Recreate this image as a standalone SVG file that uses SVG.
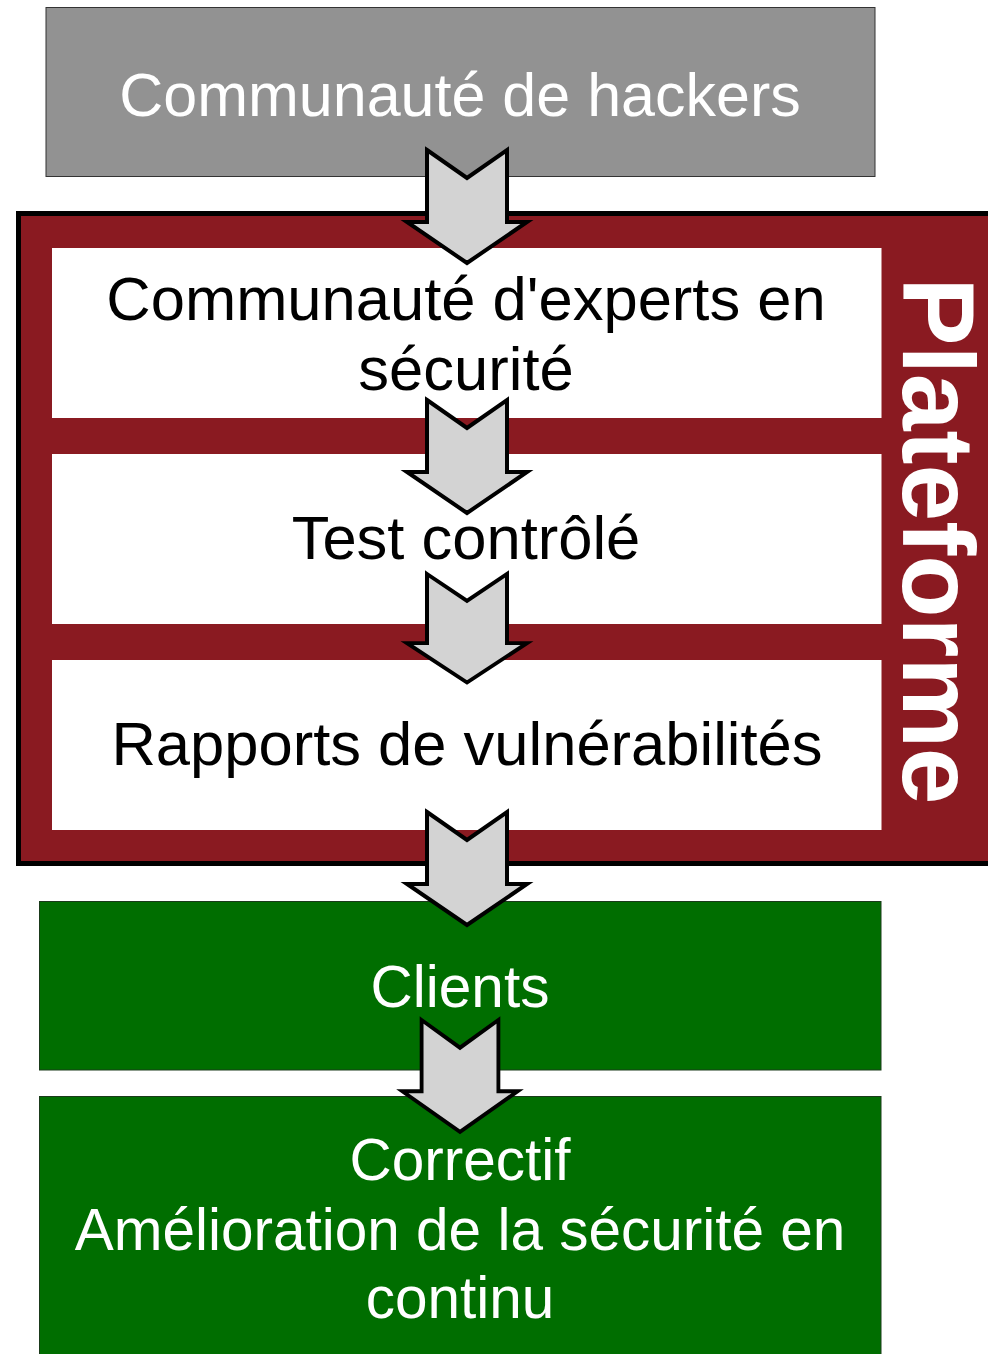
<svg xmlns="http://www.w3.org/2000/svg" width="988" height="1354" viewBox="0 0 988 1354">
<style>
.t{font-family:"Liberation Sans",Arial,Helvetica,sans-serif;font-size:61.5px;text-anchor:middle}
.g{font-size:58.5px}
.w{fill:#ffffff}
.k{fill:#000000}
.arr{fill:#d3d3d3;stroke:#000;stroke-width:4;stroke-linejoin:miter}
</style>
<defs>
<path id="arrow" d="M-40,0 L0,28 L40,0 L40,72 L60,72 L0,113 L-60,72 L-40,72 Z"/>
</defs>
<rect width="988" height="1354" fill="#ffffff"/>
<g id="hackers">
<rect x="46" y="7.5" width="829" height="169" fill="#929292" stroke="#333" stroke-width="1"/>
<text class="t w" x="460" y="116" style="font-size:61px">Communauté de hackers</text>
</g>
<g id="plateforme">
<rect x="18.5" y="213.5" width="980" height="650" fill="#8a1a21" stroke="#000" stroke-width="5"/>
<text transform="translate(903,541) rotate(90)" font-family="Liberation Sans,Arial,sans-serif" font-weight="bold" font-size="102" fill="#ffffff" text-anchor="middle">Plateforme</text>
</g>
<g id="experts">
<rect x="52" y="248" width="829.5" height="170" fill="#ffffff"/>
<text class="t k" x="466" y="320">Communauté d'experts en</text>
<text class="t k" x="466" y="390">sécurité</text>
</g>
<g id="test">
<rect x="52" y="454" width="829.5" height="170" fill="#ffffff"/>
<text class="t k" x="466" y="559">Test contrôlé</text>
</g>
<g id="rapports">
<rect x="52" y="660" width="829.5" height="170" fill="#ffffff"/>
<text class="t k" x="467" y="765">Rapports de vulnérabilités</text>
</g>
<g id="clients">
<rect x="39.5" y="901.5" width="841.5" height="168.5" fill="#006e00" stroke="#1a3a1a" stroke-width="1"/>
<text class="t g w" x="460" y="1007">Clients</text>
</g>
<g id="correctif">
<rect x="39.5" y="1096.5" width="841.5" height="262" fill="#006e00" stroke="#1a3a1a" stroke-width="1"/>
<text class="t g w" x="460" y="1180">Correctif</text>
<text class="t g w" x="460" y="1250">Amélioration de la sécurité en</text>
<text class="t g w" x="460" y="1318">continu</text>
</g>
<g id="connectors">
<use href="#arrow" class="arr" transform="translate(467,150)"/>
<use href="#arrow" class="arr" transform="translate(467,400)"/>
<use href="#arrow" class="arr" transform="translate(467,574) scale(1,0.96)"/>
<use href="#arrow" class="arr" transform="translate(467,812)"/>
<use href="#arrow" class="arr" transform="translate(460,1020) scale(0.96,0.99)"/>
</g>
</svg>
